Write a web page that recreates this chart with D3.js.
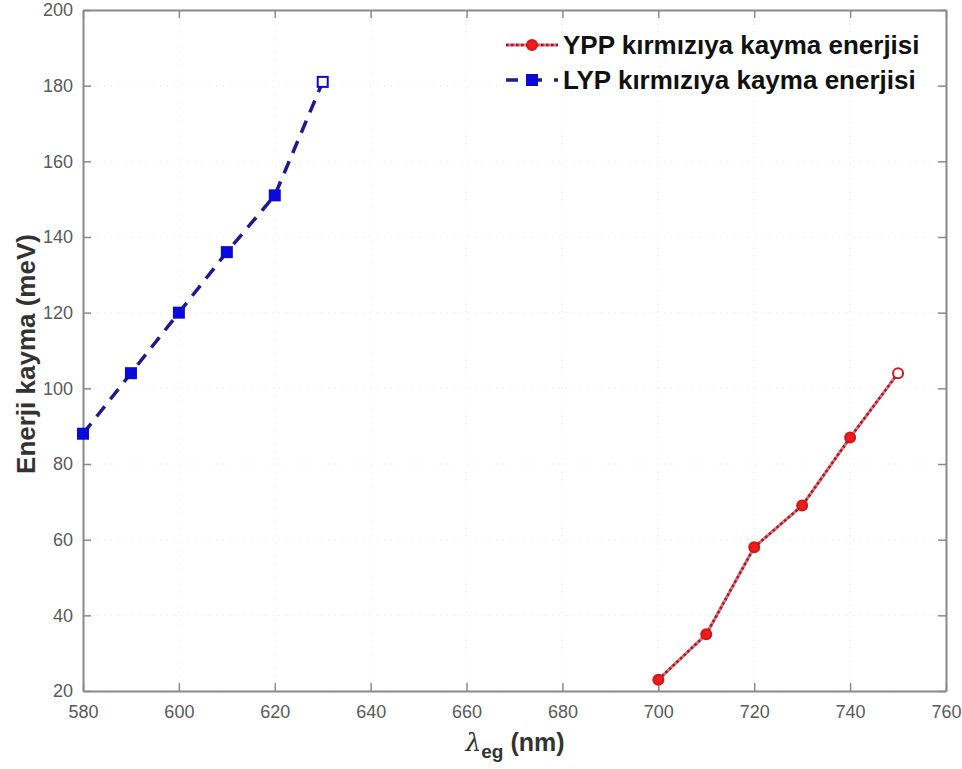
<!DOCTYPE html>
<html>
<head>
<meta charset="utf-8">
<script src="https://cdn.jsdelivr.net/npm/d3@7"></script>
<style>
  body { margin: 0; background: #fff; }
  svg { font-family: "Liberation Sans", Arial, sans-serif; }
</style>
</head>
<body>
<div id="chart"></div>
<script>
// data
var ypp_x = [700, 710, 720, 730, 740, 750];
var ypp_y = [23, 35, 58, 69, 87, 104];
var lyp_x = [580, 590, 600, 610, 620, 630];
var lyp_y = [88, 104, 120, 136, 151, 181];
var x_ticks = [580, 600, 620, 640, 660, 680, 700, 720, 740, 760];
var y_ticks = [20, 40, 60, 80, 100, 120, 140, 160, 180, 200];
var legend_labels = ["YPP kırmızıya kayma enerjisi", "LYP kırmızıya kayma enerjisi"];

function draw_chart() {
    var WIDTH = 962, HEIGHT = 769;
    var mLeft = 83, mTop = 10, mRight = 946, mBottom = 691;

    var svg = d3.select("#chart").append("svg")
        .attr("width", WIDTH)
        .attr("height", HEIGHT);

    var x = d3.scaleLinear().domain([580, 760]).range([mLeft, mRight]);
    var y = d3.scaleLinear().domain([20, 200]).range([mBottom, mTop]);

    // faint dotted grid
    var grid = svg.append("g");
    x_ticks.forEach(function (t) {
        grid.append("line")
            .attr("x1", x(t)).attr("x2", x(t)).attr("y1", mTop).attr("y2", mBottom)
            .attr("stroke", "#e6e6e6").attr("stroke-width", 1)
            .attr("stroke-dasharray", "1,6");
    });
    y_ticks.forEach(function (t) {
        grid.append("line")
            .attr("x1", mLeft).attr("x2", mRight).attr("y1", y(t)).attr("y2", y(t))
            .attr("stroke", "#e6e6e6").attr("stroke-width", 1)
            .attr("stroke-dasharray", "1,6");
    });

    // axes with inward ticks
    var axisColor = "#8a8a8a";
    function styleAxis(g) {
        g.select(".domain").attr("stroke", axisColor).attr("stroke-width", 2);
        g.selectAll(".tick line").attr("stroke", axisColor).attr("stroke-width", 1.5);
        g.selectAll(".tick text").attr("fill", "#5a5a5a").style("font-size", "18px");
    }

    svg.append("g")
        .attr("transform", "translate(0," + mBottom + ")")
        .call(d3.axisBottom(x).tickValues(x_ticks).tickSize(-8).tickPadding(14).tickSizeOuter(0))
        .call(styleAxis);
    svg.append("g")
        .attr("transform", "translate(0," + mTop + ")")
        .call(d3.axisTop(x).tickValues(x_ticks).tickSize(-8).tickFormat("").tickSizeOuter(0))
        .call(styleAxis);
    svg.append("g")
        .attr("transform", "translate(" + mLeft + ",0)")
        .call(d3.axisLeft(y).tickValues(y_ticks).tickSize(-8).tickPadding(10).tickSizeOuter(0))
        .call(styleAxis);
    svg.append("g")
        .attr("transform", "translate(" + mRight + ",0)")
        .call(d3.axisRight(y).tickValues(y_ticks).tickSize(-8).tickFormat("").tickSizeOuter(0))
        .call(styleAxis);

    // series
    var line = d3.line()
        .x(function (d) { return x(d[0]); })
        .y(function (d) { return y(d[1]); });

    var yppData = d3.zip(ypp_x, ypp_y);
    var lypData = d3.zip(lyp_x, lyp_y);

    svg.append("path")
        .datum(yppData)
        .attr("d", line)
        .attr("fill", "none")
        .attr("stroke", "#f06a6a").attr("stroke-width", 3);
    svg.append("path")
        .datum(yppData)
        .attr("d", line)
        .attr("fill", "none")
        .attr("stroke", "#8c1f3a").attr("stroke-width", 2.5)
        .attr("stroke-dasharray", "2.5,2.5");

    svg.append("path")
        .datum(lypData)
        .attr("d", line)
        .attr("fill", "none")
        .attr("stroke", "#1c1c90").attr("stroke-width", 3.5)
        .attr("stroke-dasharray", "13,9");

    svg.selectAll("circle.ypp")
        .data(yppData).enter()
        .append("circle")
        .attr("class", "ypp")
        .attr("cx", function (d) { return x(d[0]); })
        .attr("cy", function (d) { return y(d[1]); })
        .attr("r", 5)
        .attr("fill", function (d, i) { return i === yppData.length - 1 ? "#fff" : "#ee1c1c"; })
        .attr("stroke", "#d01818").attr("stroke-width", 2);

    svg.selectAll("rect.lyp")
        .data(lypData).enter()
        .append("rect")
        .attr("class", "lyp")
        .attr("x", function (d) { return x(d[0]) - 5; })
        .attr("y", function (d) { return y(d[1]) - 5; })
        .attr("width", 10).attr("height", 10)
        .attr("fill", function (d, i) { return i === lypData.length - 1 ? "#fff" : "#0a0adc"; })
        .attr("stroke", "#0a0ad0").attr("stroke-width", 2);

    // legend
    var lg = svg.append("g");
    var ly0 = 45, ly1 = 80, lx0 = 506, lx1 = 558;
    lg.append("line").attr("x1", lx0).attr("x2", lx1).attr("y1", ly0).attr("y2", ly0)
        .attr("stroke", "#f06a6a").attr("stroke-width", 3);
    lg.append("line").attr("x1", lx0).attr("x2", lx1).attr("y1", ly0).attr("y2", ly0)
        .attr("stroke", "#8c1f3a").attr("stroke-width", 2.5).attr("stroke-dasharray", "2.5,2.5");
    lg.append("circle").attr("cx", (lx0 + lx1) / 2).attr("cy", ly0).attr("r", 5)
        .attr("fill", "#ee1c1c").attr("stroke", "#d01818").attr("stroke-width", 2);
    lg.append("line").attr("x1", lx0).attr("x2", lx1).attr("y1", ly1).attr("y2", ly1)
        .attr("stroke", "#1c1c90").attr("stroke-width", 3.5).attr("stroke-dasharray", "12,12");
    lg.append("rect").attr("x", (lx0 + lx1) / 2 - 5).attr("y", ly1 - 5).attr("width", 10).attr("height", 10)
        .attr("fill", "#0a0adc").attr("stroke", "#0a0ad0").attr("stroke-width", 2);
    legend_labels.forEach(function (t, i) {
        lg.append("text")
            .attr("x", 563).attr("y", [ly0, ly1][i] + 9)
            .style("font-size", "26px").style("font-weight", "bold")
            .attr("fill", "#111")
            .text(t);
    });

    // axis titles
    svg.append("text")
        .attr("transform", "translate(35,354) rotate(-90)")
        .attr("text-anchor", "middle")
        .style("font-size", "26px").style("font-weight", "bold")
        .attr("fill", "#333")
        .text("Enerji kayma (meV)");

    var xt = svg.append("text")
        .attr("x", 515).attr("y", 751)
        .attr("text-anchor", "middle")
        .style("font-size", "25px").style("font-weight", "bold")
        .attr("fill", "#333");
    xt.append("tspan").style("font-style", "italic").style("font-weight", "normal")
        .style("font-family", "'DejaVu Serif', serif").text("λ");
    xt.append("tspan").attr("dy", 7).style("font-size", "19px").text("eg");
    xt.append("tspan").attr("dy", -7).text(" (nm)");
}

draw_chart();
</script>
</body>
</html>
